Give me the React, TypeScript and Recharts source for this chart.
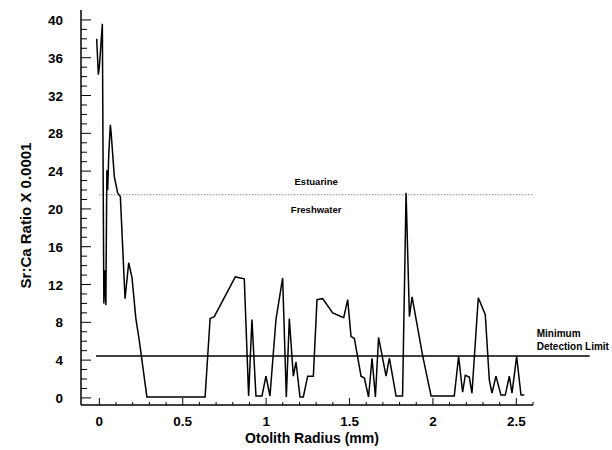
import { LineChart, Line, XAxis, YAxis, ReferenceLine, Label } from "recharts";

// Otolith radius (mm) and Sr:Ca ratio (x 0.0001) read from the transect
const radius = [
  -0.016, -0.006, 0.0, 0.018, 0.027, 0.033, 0.039, 0.045, 0.05, 0.057, 0.066, 0.07, 0.09, 0.11, 0.126,
  0.154, 0.176, 0.196, 0.219, 0.24, 0.285, 0.634, 0.664, 0.689, 0.815, 0.869, 0.895, 0.915, 0.939,
  0.975, 0.999, 1.023, 1.059, 1.099, 1.121, 1.139, 1.163, 1.179, 1.203, 1.223, 1.249, 1.283, 1.305,
  1.339, 1.399, 1.465, 1.489, 1.509, 1.529, 1.569, 1.589, 1.614, 1.635, 1.655, 1.674, 1.719, 1.739,
  1.779, 1.818, 1.839, 1.859, 1.875, 1.938, 1.989, 2.128, 2.154, 2.178, 2.194, 2.218, 2.234, 2.272,
  2.314, 2.338, 2.354, 2.378, 2.408, 2.434, 2.458, 2.474, 2.502, 2.528, 2.548,
];
const srCa = [
  38.0, 34.2, 35.0, 39.6, 10.0, 13.5, 9.8, 24.1, 22.0, 26.0, 28.9, 28.2, 23.4, 21.7, 21.3,
  10.5, 14.3, 12.7, 8.4, 6.0, 0.1, 0.1, 8.4, 8.6, 12.8, 12.6, 0.2, 8.3, 0.2,
  0.2, 2.3, 0.2, 8.3, 12.7, 0.1, 8.4, 2.3, 3.8, 0.1, 0.1, 2.3, 2.3, 10.4,
  10.5, 9.0, 8.5, 10.4, 6.5, 6.3, 2.3, 2.1, 0.1, 4.2, 0.1, 6.4, 2.3, 4.2,
  0.2, 0.2, 21.7, 8.6, 10.7, 4.5, 0.2, 0.2, 4.4, 0.6, 2.4, 2.2, 0.5, 10.6,
  8.8, 1.9, 0.5, 2.3, 0.3, 0.3, 2.3, 0.5, 4.4, 0.3, 0.3,
];

const xMajor = [0, 0.5, 1, 1.5, 2, 2.5];
const xTicks = [
  0, 0.1, 0.2, 0.3, 0.4, 0.5, 0.6, 0.7, 0.8, 0.9, 1, 1.1, 1.2, 1.3, 1.4, 1.5, 1.6, 1.7, 1.8, 1.9, 2,
  2.1, 2.2, 2.3, 2.4, 2.5, 2.6,
];
const yMajor = [0, 4, 8, 12, 16, 20, 24, 28, 32, 36, 40];
const yTicks = [
  0, 1, 2, 3, 4, 5, 6, 7, 8, 9, 10, 11, 12, 13, 14, 15, 16, 17, 18, 19, 20, 21, 22, 23, 24, 25, 26,
  27, 28, 29, 30, 31, 32, 33, 34, 35, 36, 37, 38, 39, 40,
];

const estuarineLimit = 21.5;
const detectionLimit = 4.44;

const data = radius.map((r, i) => ({ r, v: srCa[i] }));
const font = "'Liberation Sans', Arial, sans-serif";

const XTick = (props: any) => {
  const { x, y, payload } = props;
  const major = xMajor.includes(payload.value);
  return (
    <g>
      <line x1={x} x2={x} y1={y} y2={y - (major ? 7 : 3)} stroke="#000" strokeWidth={1} />
      {major && (
        <text x={x} y={y + 21} textAnchor="middle" fontSize={13.5} fontWeight="bold" fontFamily={font} fill="#000">
          {payload.value}
        </text>
      )}
    </g>
  );
};

const YTick = (props: any) => {
  const { x, y, payload } = props;
  const major = yMajor.includes(payload.value);
  return (
    <g>
      <line x1={x} x2={x + (major ? 10 : 6)} y1={y} y2={y} stroke="#000" strokeWidth={1} />
      {major && (
        <text x={x - 18} y={y + 5} textAnchor="end" fontSize={13.5} fontWeight="bold" fontFamily={font} fill="#000">
          {payload.value}
        </text>
      )}
    </g>
  );
};

export default function App() {
  return (
    <div style={{ position: "absolute", left: 0, top: 0, background: "#fff" }}>
      <LineChart width={612} height={450} data={data} margin={{ top: 10, right: 79, bottom: 0, left: 0 }}>
        <XAxis
          type="number"
          dataKey="r"
          domain={[-0.11, 2.6]}
          ticks={xTicks}
          interval={0}
          tickSize={0}
          tickMargin={0}
          tickLine={false}
          tick={<XTick />}
          height={45}
          axisLine={{ stroke: "#000", strokeWidth: 1.5 }}
        >
          <Label
            content={(p: any) => (
              <text
                x={p.viewBox.x + p.viewBox.width / 2 + 5}
                y={p.viewBox.y + 38}
                textAnchor="middle"
                fontSize={14}
                fontWeight="bold"
                fontFamily={font}
                fill="#000"
              >
                Otolith Radius (mm)
              </text>
            )}
          />
        </XAxis>
        <YAxis
          type="number"
          domain={[-0.75, 41.05]}
          ticks={yTicks}
          interval={0}
          tickSize={0}
          tickMargin={0}
          tickLine={false}
          tick={<YTick />}
          width={81}
          axisLine={{ stroke: "#000", strokeWidth: 1.5 }}
        >
          <Label
            content={(p: any) => {
              const cx = 25;
              const cy = p.viewBox.y + p.viewBox.height / 2 + 8;
              return (
                <text
                  x={cx}
                  y={cy}
                  transform={`rotate(-90 ${cx} ${cy})`}
                  textAnchor="middle"
                  dominantBaseline="central"
                  fontSize={15}
                  fontWeight="bold"
                  fontFamily={font}
                  fill="#000"
                >
                  Sr:Ca Ratio X 0.0001
                </text>
              );
            }}
          />
        </YAxis>
        <ReferenceLine
          segment={[
            { x: 0, y: estuarineLimit },
            { x: 2.6, y: estuarineLimit },
          ]}
          stroke="#555"
          strokeWidth={1}
          strokeDasharray="1 2"
          ifOverflow="visible"
          label={(p: any) => {
            const cx = p.viewBox.x + p.viewBox.width / 2;
            const cy = p.viewBox.y;
            return (
              <g fontSize={9.5} fontWeight="bold" fontFamily={font} fill="#000">
                <text x={cx} y={cy - 10} textAnchor="middle">
                  Estuarine
                </text>
                <text x={cx} y={cy + 18} textAnchor="middle">
                  Freshwater
                </text>
              </g>
            );
          }}
        />
        <ReferenceLine
          segment={[
            { x: -0.02, y: detectionLimit },
            { x: 2.94, y: detectionLimit },
          ]}
          stroke="#000"
          strokeWidth={1.5}
          ifOverflow="visible"
          label={(p: any) => {
            const lx = p.viewBox.x + p.viewBox.width - 53;
            const ly = p.viewBox.y;
            return (
              <g fontSize={10} fontWeight="bold" fontFamily={font} fill="#000">
                <text x={lx} y={ly - 19}>Minimum</text>
                <text x={lx} y={ly - 6}>Detection Limit</text>
              </g>
            );
          }}
        />
        <Line
          type="linear"
          dataKey="v"
          stroke="#000"
          strokeWidth={1.5}
          dot={false}
          isAnimationActive={false}
        />
      </LineChart>
    </div>
  );
}
